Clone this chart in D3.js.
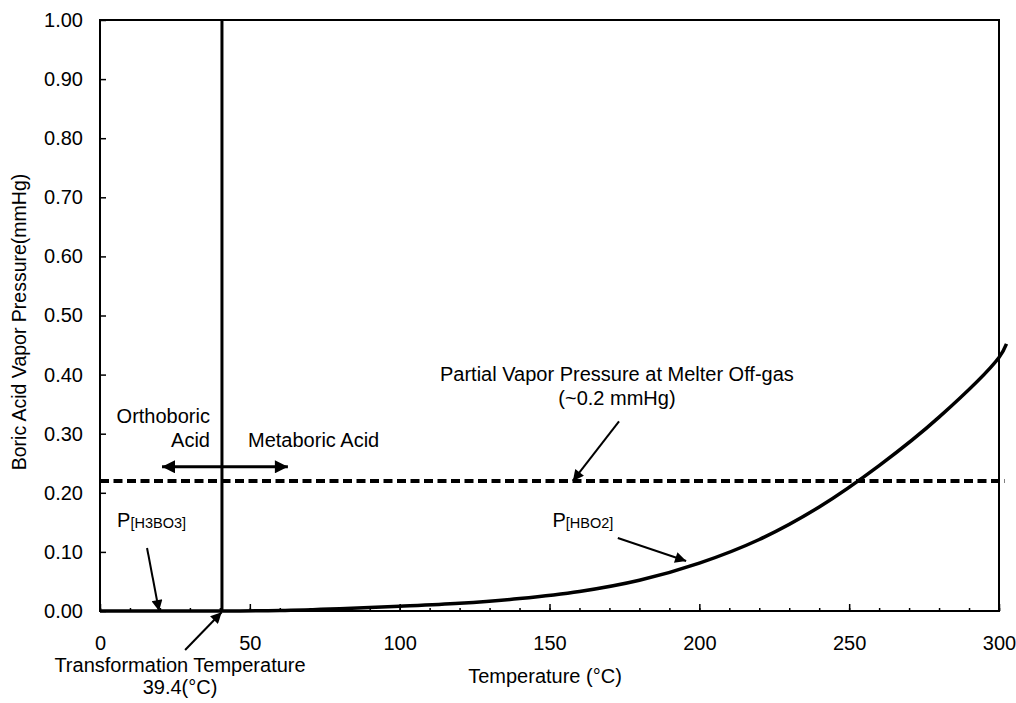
<!DOCTYPE html>
<html>
<head>
<meta charset="utf-8">
<script src="https://cdn.jsdelivr.net/npm/d3@7"></script>
<style>
body{margin:0;background:#fff;}
text{font-family:"Liberation Sans",Arial,sans-serif;fill:#000;}
</style>
</head>
<body>
<script>
// P[HBO2] curve
let tempC = [40.7, 60, 80, 100, 120, 140, 160, 180, 200, 220, 240, 260, 280, 300, 302.5];
let pHBO2 = [0.000, 0.001, 0.004, 0.008, 0.013, 0.021, 0.033, 0.052, 0.081, 0.121, 0.176, 0.246, 0.328, 0.429, 0.452];

// P[H3BO3] stays on zero up to the transformation line
let tempOrtho = [0, 20, 40.7];
let pH3BO3 = [0, 0, 0];

let offGasP = 0.22;
let transformT = 40.7;

let xTicks = [0, 50, 100, 150, 200, 250, 300];
let xMinorTicks = [0,10,20,30,40,50,60,70,80,90,100,110,120,130,140,150,160,170,180,190,200,210,220,230,240,250,260,270,280,290,300];
let yTicks = [0, 0.1, 0.2, 0.3, 0.4, 0.5, 0.6, 0.7, 0.8, 0.9, 1.0];

let fs = 20;

let svg = d3.select("body").append("svg").attr("width",1016).attr("height",703);

let x = d3.scaleLinear().domain([0,300]).range([100,999]);
let y = d3.scaleLinear().domain([0,1]).range([611,20]);

// arrow heads
let defs = svg.append("defs");
function marker(id,len,wid){
  defs.append("marker").attr("id",id)
      .attr("viewBox","0 0 10 10").attr("refX",10).attr("refY",5)
      .attr("markerWidth",len).attr("markerHeight",wid)
      .attr("markerUnits","userSpaceOnUse").attr("orient","auto-start-reverse")
    .append("path").attr("d","M0,0L10,5L0,10Z").attr("fill","#000");
}
marker("head",19,11);
marker("bighead",26,13);

// frame
svg.append("rect").attr("x",x(0)).attr("y",y(1))
   .attr("width",x(300)-x(0)).attr("height",y(0)-y(1))
   .attr("fill","none").attr("stroke","#000").attr("stroke-width",2);

// axes
let minorAxis = svg.append("g").attr("transform","translate(0,"+y(0)+")")
   .call(d3.axisBottom(x).tickValues(xMinorTicks).tickSize(-3).tickFormat(""));
minorAxis.select(".domain").remove();

let xAxis = svg.append("g").attr("transform","translate(0,"+y(0)+")")
   .call(d3.axisBottom(x).tickValues(xTicks).tickSize(-7).tickPadding(25).tickFormat(d3.format("d")));
xAxis.select(".domain").remove();

let yAxis = svg.append("g").attr("transform","translate("+x(0)+",0)")
   .call(d3.axisLeft(y).tickValues(yTicks).tickSize(-6).tickPadding(17).tickFormat(d3.format(".2f")));
yAxis.select(".domain").remove();

svg.selectAll(".tick line").attr("stroke","#000").attr("stroke-width",1.5);
svg.selectAll(".tick text").attr("font-size",fs).attr("font-family","'Liberation Sans',Arial,sans-serif");

// axis titles
svg.append("text").attr("x",x(148.5)).attr("y",683).attr("text-anchor","middle")
   .attr("font-size",fs).text("Temperature (°C)");
svg.append("text").attr("transform","translate(26,322) rotate(-90)").attr("text-anchor","middle")
   .attr("font-size",19.5).text("Boric Acid Vapor Pressure(mmHg)");

let line = d3.line().x(d=>x(d[0])).y(d=>y(d[1])).curve(d3.curveCatmullRom);

// off-gas dashed level
svg.append("line").attr("x1",x(0)).attr("x2",x(302)).attr("y1",y(offGasP)).attr("y2",y(offGasP))
   .attr("stroke","#000").attr("stroke-width",4).attr("stroke-dasharray","9,4.5");

// transformation line
svg.append("line").attr("x1",x(transformT)).attr("x2",x(transformT)).attr("y1",y(0)).attr("y2",y(1))
   .attr("stroke","#000").attr("stroke-width",3);

// curves
svg.append("path").attr("d",line(tempOrtho.map((t,i)=>[t,pH3BO3[i]])))
   .attr("fill","none").attr("stroke","#000").attr("stroke-width",3.5);
svg.append("path").attr("d",line(tempC.map((t,i)=>[t,pHBO2[i]])))
   .attr("fill","none").attr("stroke","#000").attr("stroke-width",3.5);

// double arrow ortho <-> meta
svg.append("line").attr("x1",x(20.7)).attr("x2",x(62.7)).attr("y1",y(0.244)).attr("y2",y(0.244))
   .attr("stroke","#000").attr("stroke-width",3)
   .attr("marker-start","url(#bighead)").attr("marker-end","url(#bighead)");

// pointer arrows [from, to] in data units
let pointers = [
  [[173.2,0.321],[157.8,0.220]],
  [[172.8,0.1235],[195.6,0.0846]],
  [[15.7,0.1066],[19.7,0.0]],
  [[28.4,-0.066],[40.6,-0.002]]
];
pointers.forEach(p=>{
  svg.append("line").attr("x1",x(p[0][0])).attr("y1",y(p[0][1]))
     .attr("x2",x(p[1][0])).attr("y2",y(p[1][1]))
     .attr("stroke","#000").attr("stroke-width",2).attr("marker-end","url(#head)");
});

// notes
let notes = [
  {t:"Orthoboric", x:36.7, y:0.318, a:"end"},
  {t:"Acid", x:36.7, y:0.277, a:"end"},
  {t:"Metaboric Acid", x:49.4, y:0.277, a:"start"},
  {t:"Partial Vapor Pressure at Melter Off-gas", x:172.5, y:0.390, a:"middle"},
  {t:"(~0.2 mmHg)", x:172.5, y:0.348, a:"middle"}
];
notes.forEach(n=>{
  svg.append("text").attr("x",x(n.x)).attr("y",y(n.y)).attr("text-anchor",n.a)
     .attr("font-size",fs).text(n.t);
});

// P labels with small bracket text
let pLabels = [{sub:"[H3BO3]", x:5.7, y:0.142},{sub:"[HBO2]", x:151, y:0.142}];
pLabels.forEach(p=>{
  let t = svg.append("text").attr("x",x(p.x)).attr("y",y(p.y)).attr("font-size",fs);
  t.append("tspan").text("P");
  t.append("tspan").attr("font-size",14.5).attr("dy",1).text(p.sub);
});

// transformation temperature note under the axis
svg.append("text").attr("x",x(26.7)).attr("y",672).attr("text-anchor","middle")
   .attr("font-size",fs).text("Transformation Temperature");
svg.append("text").attr("x",x(26.7)).attr("y",694).attr("text-anchor","middle")
   .attr("font-size",fs).text("39.4(°C)");
</script>
</body>
</html>
